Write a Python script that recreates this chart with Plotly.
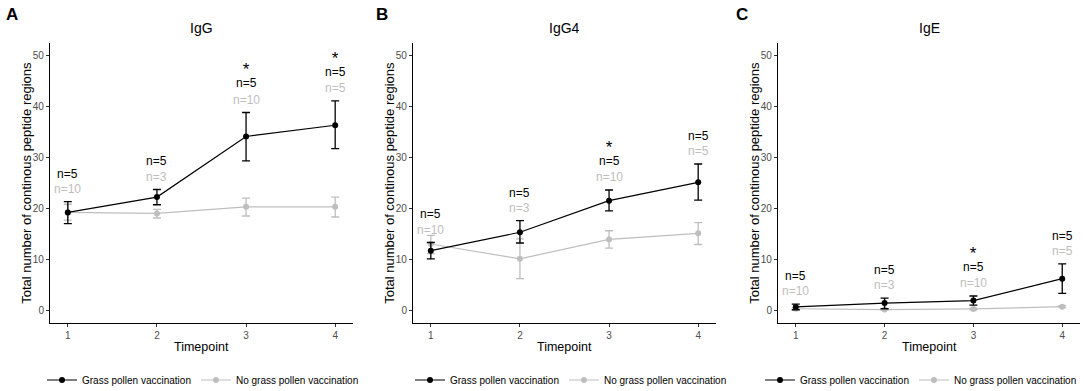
import plotly.graph_objects as go

# ---------------- data ----------------
timepoints = [1, 2, 3, 4]
panel_titles = ["IgG", "IgG4", "IgE"]
panel_letters = ["A", "B", "C"]
series_names = ["Grass pollen vaccination", "No grass pollen vaccination"]

# IgG
igg_vacc_mean = [19.2, 22.2, 34.1, 36.3]
igg_vacc_upper = [21.3, 23.7, 38.8, 41.1]
igg_vacc_lower = [17.0, 20.7, 29.3, 31.7]
igg_novacc_mean = [19.2, 19.0, 20.3, 20.3]
igg_novacc_upper = [20.8, 19.8, 22.0, 22.2]
igg_novacc_lower = [17.7, 18.1, 18.5, 18.3]
igg_signif = [False, False, True, True]

# IgG4
igg4_vacc_mean = [11.7, 15.3, 21.5, 25.1]
igg4_vacc_upper = [13.3, 17.6, 23.6, 28.7]
igg4_vacc_lower = [10.1, 13.2, 19.5, 21.6]
igg4_novacc_mean = [13.0, 10.1, 13.9, 15.1]
igg4_novacc_upper = [14.7, 14.0, 15.6, 17.2]
igg4_novacc_lower = [11.1, 6.2, 12.2, 12.9]
igg4_signif = [False, False, True, False]

# IgE
ige_vacc_mean = [0.65, 1.4, 1.9, 6.2]
ige_vacc_upper = [1.2, 2.4, 2.8, 9.1]
ige_vacc_lower = [0.1, 0.3, 1.0, 3.3]
ige_novacc_mean = [0.3, 0.13, 0.26, 0.7]
ige_novacc_upper = [0.5, 0.3, 0.4, 0.9]
ige_novacc_lower = [0.1, 0.0, 0.1, 0.5]
ige_signif = [False, False, True, False]

n_vacc = [5, 5, 5, 5]
n_novacc = [10, 3, 10, 5]

y_ticks = [0, 10, 20, 30, 40, 50]

# ---------------- style ----------------
BLACK = "#000000"
GREY = "#BEBEBE"
FONT = "Arial"
W, H = 1084, 391

panels = [
    dict(vm=igg_vacc_mean, vu=igg_vacc_upper, vl=igg_vacc_lower,
         nm=igg_novacc_mean, nu=igg_novacc_upper, nl=igg_novacc_lower, sig=igg_signif),
    dict(vm=igg4_vacc_mean, vu=igg4_vacc_upper, vl=igg4_vacc_lower,
         nm=igg4_novacc_mean, nu=igg4_novacc_upper, nl=igg4_novacc_lower, sig=igg4_signif),
    dict(vm=ige_vacc_mean, vu=ige_vacc_upper, vl=ige_vacc_lower,
         nm=ige_novacc_mean, nu=ige_novacc_upper, nl=ige_novacc_lower, sig=ige_signif),
]

x_domains_px = [(50, 353), (413, 716), (778, 1080)]
y_top_px, y_bot_px = 42.7, 323
y_domain = [1 - y_bot_px / H, 1 - y_top_px / H]
legend_pos = [(203, "center"), (571, "center"), (1082, "right")]

fig = go.Figure()
annotations = []
layout_axes = {}

for i, p in enumerate(panels):
    k = "" if i == 0 else str(i + 1)
    xref = "x" + k
    yref = "y" + k
    legend_id = "legend" + k
    x0, x1 = x_domains_px[i]
    dom = [x0 / W, x1 / W]
    cx = (dom[0] + dom[1]) / 2

    # grey series first (drawn underneath)
    fig.add_trace(go.Scatter(
        x=timepoints, y=p["nm"], mode="lines+markers", name=series_names[1],
        line=dict(color=GREY, width=1.2), marker=dict(color=GREY, size=6),
        error_y=dict(type="data", symmetric=False,
                     array=[u - m for u, m in zip(p["nu"], p["nm"])],
                     arrayminus=[m - l for m, l in zip(p["nm"], p["nl"])],
                     color=GREY, thickness=1.3, width=4),
        xaxis=xref, yaxis=yref, legend=legend_id, legendrank=2,
    ))
    fig.add_trace(go.Scatter(
        x=timepoints, y=p["vm"], mode="lines+markers", name=series_names[0],
        line=dict(color=BLACK, width=1.2), marker=dict(color=BLACK, size=6),
        error_y=dict(type="data", symmetric=False,
                     array=[u - m for u, m in zip(p["vu"], p["vm"])],
                     arrayminus=[m - l for m, l in zip(p["vm"], p["vl"])],
                     color=BLACK, thickness=1.3, width=4),
        xaxis=xref, yaxis=yref, legend=legend_id, legendrank=1,
    ))

    axis_common = dict(
        showline=True, linecolor="black", linewidth=1.1, mirror=False,
        showgrid=False, zeroline=False, ticks="outside", ticklen=3,
        tickcolor="#333333", tickwidth=1, automargin=False,
        tickfont=dict(family=FONT, size=10, color="#4D4D4D"),
    )
    layout_axes["xaxis" + k] = dict(
        axis_common, domain=dom, range=[0.8, 4.2], tickmode="array",
        tickvals=timepoints, ticktext=[str(t) for t in timepoints],
        anchor=yref,
    )
    layout_axes["yaxis" + k] = dict(
        axis_common, domain=y_domain, range=[-2.5, 52.5], tickmode="array",
        tickvals=y_ticks, anchor=xref,
    )

    # n labels and significance stars (above the upper error bar)
    for t, top, nv, nn, s in zip(timepoints, p["vu"], n_vacc, n_novacc, p["sig"]):
        annotations.append(dict(x=t, y=top + 2.5, xref=xref, yref=yref, text=f"n={nn}",
                                showarrow=False, font=dict(family=FONT, size=12, color=GREY),
                                yanchor="middle"))
        if s:
            # star and black n label share one text block
            annotations.append(dict(
                x=t, y=top + 5.5, xref=xref, yref=yref,
                text=f"<span style='font-size:17px'>*</span><br><span style='font-size:12px'>n={nv}</span>",
                showarrow=False, font=dict(family=FONT, size=9, color=BLACK),
                yanchor="bottom", yshift=-8))
        else:
            annotations.append(dict(x=t, y=top + 5.5, xref=xref, yref=yref, text=f"n={nv}",
                                    showarrow=False, font=dict(family=FONT, size=12, color=BLACK),
                                    yanchor="middle"))

    # panel title
    annotations.append(dict(x=cx, y=1 - 28 / H, xref="paper", yref="paper", text=panel_titles[i],
                            showarrow=False, font=dict(family=FONT, size=14, color=BLACK),
                            xanchor="center", yanchor="middle"))
    # panel letter
    letter_x = [12, 382, 742][i]
    annotations.append(dict(x=letter_x / W, y=1 - 15 / H, xref="paper", yref="paper",
                            text=f"<b>{panel_letters[i]}</b>", showarrow=False,
                            font=dict(family=FONT, size=17, color=BLACK),
                            xanchor="center", yanchor="middle"))
    # axis titles
    annotations.append(dict(x=cx, y=1 - 347 / H, xref="paper", yref="paper", text="Timepoint",
                            showarrow=False, font=dict(family=FONT, size=12.5, color=BLACK),
                            xanchor="center", yanchor="middle"))
    annotations.append(dict(x=(x0 - 23) / W, y=(y_domain[0] + y_domain[1]) / 2,
                            xref="paper", yref="paper",
                            text="Total number of continous peptide regions", textangle=-90,
                            showarrow=False, font=dict(family=FONT, size=13, color=BLACK),
                            xanchor="center", yanchor="middle"))

    lx, lanchor = legend_pos[i]
    layout_axes[legend_id] = dict(
        orientation="h", x=lx / W, y=1 - 380 / H, xanchor=lanchor, yanchor="middle",
        font=dict(family=FONT, size=10, color=BLACK), bgcolor="rgba(0,0,0,0)",
        itemwidth=30, traceorder="normal",
    )

fig.update_layout(
    width=W, height=H, margin=dict(l=0, r=0, t=0, b=0, pad=0, autoexpand=False),
    paper_bgcolor="white", plot_bgcolor="white",
    showlegend=True, annotations=annotations,
    font=dict(family=FONT),
    **layout_axes,
)

fig.write_html("out.html", config={"displayModeBar": False},
               post_script="document.body.style.margin='0px';document.body.style.overflow='hidden';")
